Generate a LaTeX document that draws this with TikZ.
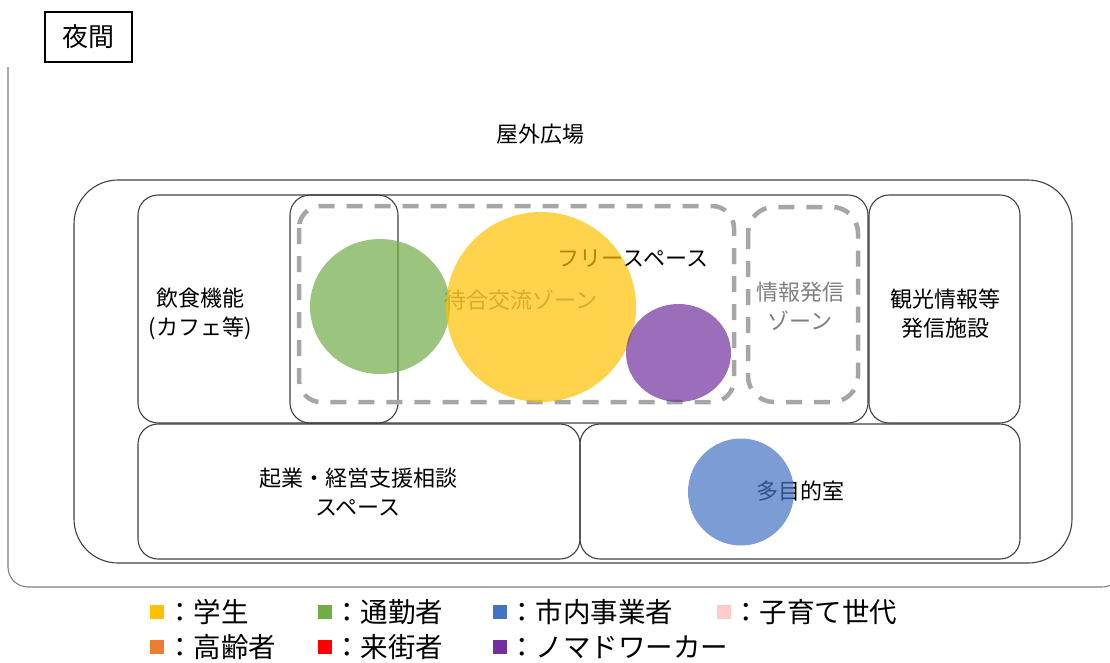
\documentclass[tikz,border=0pt]{standalone}
\usepackage{fontspec}
\setmainfont{Noto Sans CJK JP}
\usetikzlibrary{shapes.geometric}
\definecolor{boxline}{HTML}{404040}
\definecolor{frameline}{HTML}{808080}
\definecolor{dashgray}{HTML}{A6A6A6}
\definecolor{cstudent}{HTML}{FFC000}
\definecolor{ccommuter}{HTML}{70AD47}
\definecolor{cbusiness}{HTML}{4472C4}
\definecolor{cparent}{HTML}{FFCCCC}
\definecolor{celder}{HTML}{ED7D31}
\definecolor{cvisitor}{HTML}{FF0000}
\definecolor{cnomad}{HTML}{7030A0}
\definecolor{zonetext}{HTML}{7F7F7F}
\tikzset{
  roombox/.style={draw=boxline, line width=1.1pt, rounded corners=20pt},
  zonebox/.style={draw=dashgray, line width=4.5pt, dash pattern=on 16pt off 12pt, rounded corners=22pt},
  lbl/.style={font=\fontsize{22}{29}\selectfont, align=center, inner sep=0pt},
  zlbl/.style={lbl, text=zonetext},
  bubble/.style={fill opacity=0.7, draw=none},
  legsq/.style={minimum size=14pt, inner sep=0pt, draw=none},
  legtx/.style={font=\fontsize{27.5}{32}\selectfont, anchor=west, inner sep=0pt},
}
\begin{document}
\begin{tikzpicture}[x=1pt,y=-1pt]
\useasboundingbox (0,0) rectangle (1110,662);
% title box
\node[draw=black, line width=1.2pt, minimum width=87pt, minimum height=50pt, font=\fontsize{26}{30}\selectfont] (title) at (88.5,37) {夜間};
% outer frame (outdoor)
\draw[frameline, line width=1.1pt, rounded corners=20pt] (8,67) -- (8,587) -- (1122,587) -- (1122,420);
\node[lbl] (outdoor) at (540,134) {屋外広場};
% building
\draw[roombox, rounded corners=44pt] (74,180) rectangle (1072,563);
% rooms
\draw[roombox] (138,195) rectangle (398,423);
\draw[roombox] (290,195) rectangle (868,423);
\draw[roombox] (869,195) rectangle (1020,423);
\draw[roombox] (138,424) rectangle (580,559);
\draw[roombox] (580,424) rectangle (1020,559);
% zones
\draw[zonebox] (299,206) rectangle (734,402);
\draw[zonebox, rounded corners=26pt] (748,207) rectangle (858,402);
% labels
\node[lbl] (cafe) at (200,314) {飲食機能\\(カフェ等)};
\node[lbl] (free) at (633,259) {フリースペース};
\node[zlbl] (wait) at (521,300) {待合交流ゾーン};
\node[zlbl] (info) at (800,306) {情報発信\\ゾーン};
\node[lbl] (tour) at (945,314) {観光情報等\\発信施設};
\node[lbl] (startup) at (358,492) {起業・経営支援相談\\スペース};
\node[lbl] (multi) at (800,491) {多目的室};
% bubbles
\fill[bubble, fill=ccommuter] (380,306.5) ellipse [x radius=70, y radius=67.5];
\fill[bubble, fill=cstudent] (541,307) circle [radius=95];
\fill[bubble, fill=cnomad] (678.5,353) ellipse [x radius=52.5, y radius=49];
\fill[bubble, fill=cbusiness] (741,492) ellipse [x radius=53, y radius=53.5];
% legend
\node[legsq, fill=cstudent] (sq1) at (157,612) {};
\node[legtx] (lg1) at (166,612) {：学生};
\node[legsq, fill=ccommuter] (sq2) at (325,612) {};
\node[legtx] (lg2) at (333,612) {：通勤者};
\node[legsq, fill=cbusiness] (sq3) at (500,612) {};
\node[legtx] (lg3) at (508,612) {：市内事業者};
\node[legsq, fill=cparent] (sq4) at (724,612) {};
\node[legtx] (lg4) at (732,612) {：子育て世代};
\node[legsq, fill=celder] (sq5) at (157,647) {};
\node[legtx] (lg5) at (166,647) {：高齢者};
\node[legsq, fill=cvisitor] (sq6) at (325,647) {};
\node[legtx] (lg6) at (333,647) {：来街者};
\node[legsq, fill=cnomad] (sq7) at (500,647) {};
\node[legtx] (lg7) at (508,647) {：ノマドワーカー};
\end{tikzpicture}
\end{document}
